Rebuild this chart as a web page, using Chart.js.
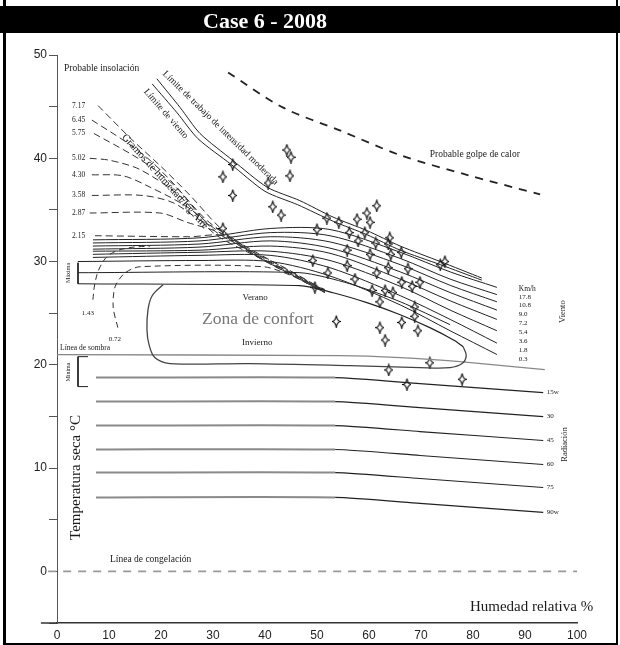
<!DOCTYPE html>
<html>
<head>
<meta charset="utf-8">
<script src="https://cdn.jsdelivr.net/npm/chart.js@4.4.1/dist/chart.umd.min.js"></script>
<style>
  html, body { margin: 0; padding: 0; background: #fff; }
  #wrap { position: relative; width: 620px; height: 645px; overflow: hidden; }
  canvas { position: absolute; left: 0; top: 0; }
  #frame { position: absolute; left: 3px; top: 0; width: 615px; height: 645px; box-sizing: border-box;
    border-left: 3px solid #000; border-right: 2px solid #000; border-bottom: 2px solid #000; pointer-events: none; }
  #title { position: absolute; left: 0; top: 6px; width: 620px; height: 27px; background: #000; }
  #title span { position: absolute; left: 203px; top: 2px; color: #fff; font: bold 22px 'Liberation Serif', serif; }
</style>
</head>
<body>
<div id="wrap">
  <canvas id="chart" width="620" height="645"></canvas>
  <div id="title"><span>Case 6 - 2008</span></div>
  <div id="frame"></div>
</div>
<script>
// axes
const humTicks = [0, 10, 20, 30, 40, 50, 60, 70, 80, 90, 100];
const tempTicks = [-5, 0, 5, 10, 15, 20, 25, 30, 35, 40, 45, 50];

// measured conditions (humidity %, temperature °C)
const obsHum = [44.2, 45.0, 44.8, 31.9, 33.8, 33.8, 40.6, 41.5, 43.1, 31.9, 51.9, 54.2, 57.7, 59.6, 61.5,
  60.2, 50.0, 56.2, 59.2, 57.9, 64.0, 63.7, 61.3, 55.8, 60.2, 64.2, 66.2, 49.2, 55.8, 61.5, 63.7, 67.5,
  73.7, 74.6, 52.1, 57.3, 66.3, 68.3, 69.8, 49.6, 60.6, 63.1, 64.6, 62.1, 68.8, 68.8, 66.3, 69.4, 62.1,
  63.1, 53.7, 63.8, 67.3, 71.7, 77.9];
const obsTemp = [40.8, 40.1, 38.3, 38.2, 39.4, 36.4, 37.6, 35.3, 34.5, 33.2, 34.2, 33.8, 34.1, 34.7, 35.4,
  33.8, 33.1, 32.8, 32.8, 32.0, 32.3, 31.7, 31.8, 31.1, 30.7, 30.7, 30.9, 30.1, 29.6, 28.9, 29.4, 29.3,
  29.7, 30.0, 28.9, 28.3, 28.0, 27.6, 28.0, 27.5, 27.2, 27.2, 27.0, 26.1, 25.6, 24.7, 24.1, 23.3, 23.6,
  22.4, 24.2, 19.5, 18.1, 20.2, 18.6];

// limits
const limitWork = [[19.2, 47.7], [23.7, 44.9], [27.5, 42.4], [33.8, 39.8], [40.4, 37.2], [46.7, 35.9],
  [53.1, 34.3], [59.6, 33.0], [66.0, 31.5], [73.7, 30.0], [81.7, 28.4]];
const limitWind = [[18.3, 47.2], [23.1, 44.4], [27.1, 41.9], [33.5, 39.4], [40.0, 36.8], [46.3, 35.5],
  [53.1, 33.9], [59.6, 32.6], [66.0, 31.1], [73.7, 29.7], [81.7, 28.2]];
const heatStroke = [[32.9, 48.3], [43.5, 44.9], [54.4, 42.7], [66.0, 40.3], [78.8, 38.4], [92.9, 36.5]];

// absolute humidity lines (g/kg)
const insolLabels = ['7.17', '6.45', '5.75', '5.02', '4.30', '3.58', '2.87', '2.15'];
const insolLines = [
  [[7.9, 45.1], [14.0, 42.0], [19.8, 39.3], [25.6, 36.4], [31.3, 33.3], [37.1, 31.1], [43.8, 29.2], [51.5, 27.1]],
  [[6.7, 43.7], [13.5, 41.5], [17.9, 39.8], [22.3, 37.6], [28.8, 34.0], [35.2, 31.8], [42.9, 29.6], [51.5, 27.2]],
  [[7.1, 42.4], [14.6, 40.3], [18.8, 38.9], [23.1, 37.1], [30.0, 33.1], [36.2, 31.3], [43.8, 29.4], [51.5, 27.2]],
  [[6.3, 40.0], [10.2, 39.8], [16.0, 38.9], [23.7, 36.3], [30.0, 32.8], [36.7, 30.9], [44.4, 29.1], [51.5, 27.1]],
  [[6.7, 38.4], [12.7, 38.3], [17.9, 37.2], [25.0, 35.3], [31.3, 32.8], [37.5, 30.8], [44.8, 28.9], [51.5, 27.1]],
  [[6.7, 36.4], [16.5, 36.4], [22.3, 35.7], [27.5, 34.0], [31.7, 32.9], [38.1, 30.6], [45.2, 28.7], [51.5, 27.0]],
  [[6.3, 34.7], [19.8, 34.7], [25.0, 33.8], [31.7, 32.7], [38.7, 30.4], [45.8, 28.5], [51.5, 27.0]],
  [[7.3, 32.5], [25.6, 32.4], [32.3, 32.5], [39.0, 30.4], [46.2, 28.4], [51.5, 27.0]]
];
const hum143 = [[6.9, 26.3], [7.3, 27.9], [8.3, 29.5], [10.2, 30.7], [13.5, 31.3], [17.9, 31.5]];
const hum072 = [[11.7, 23.6], [10.8, 25.6], [11.2, 27.6], [13.1, 28.9], [16.0, 29.5], [39.6, 29.5], [45.8, 28.5], [51.5, 27.3]];

// wind lines (km/h)
const windLabels = ['17.8', '10.8', '9.0', '7.2', '5.4', '3.6', '1.8', '0.3'];
const windStart = [6.9, 6.9, 6.9, 6.9, 6.9, 6.9, 6.9, 4.0];
const windX = [27.5, 41.0, 52.5, 66.0, 75.6, 84.6];
const windT = [
  [32.1, 32.3, 33.2, 33.1, 30.9, 29.0, 27.5],
  [31.8, 32.0, 32.8, 32.5, 30.3, 28.3, 26.8],
  [31.5, 31.7, 32.4, 31.9, 29.7, 27.7, 26.1],
  [31.2, 31.4, 32.0, 31.3, 29.0, 27.0, 25.3],
  [31.0, 31.1, 31.5, 30.8, 28.3, 26.2, 24.4],
  [30.7, 30.9, 31.0, 30.1, 27.6, 25.3, 23.3],
  [30.4, 30.6, 30.6, 29.4, 26.7, 24.4, 22.1],
  [30.0, 30.1, 30.0, 28.6, 25.8, 23.3, 21.0]
];

// radiation lines (w)
const radLabels = ['15w', '30', '45', '60', '75', '90w'];
const radX = [7.5, 53.5, 69.8, 93.5];
const radT = [
  [18.76, 18.76, 18.18, 17.31],
  [16.44, 16.44, 15.86, 14.99],
  [14.12, 14.12, 13.54, 12.67],
  [11.80, 11.80, 11.22, 10.35],
  [9.57, 9.57, 8.99, 8.12],
  [7.16, 7.16, 6.58, 5.71]
];

// comfort zone
const comfortTop = [[4.0, 27.85], [46.7, 27.66], [53.1, 26.98], [59.6, 26.02], [66.0, 24.85], [71.7, 23.6], [76.5, 22.34], [78.1, 21.76]];
const comfortMid = [[4.0, 28.92], [46.7, 28.92], [56.3, 27.85], [66.0, 26.11], [75.6, 23.89]];
const comfortBlob = [[20.4, 27.76], [18.3, 26.69], [17.5, 25.34], [17.3, 23.4], [17.7, 21.95], [18.8, 20.7],
  [21.7, 20.12], [37.1, 20.12], [56.3, 19.92], [69.8, 19.73], [75.6, 19.73], [77.9, 20.12], [78.7, 20.89], [78.1, 21.76]];
const shadeLine = [[0, 20.99], [54.4, 20.89], [66.0, 20.7], [77.5, 20.31], [93.8, 19.54]];
const upperBracket = [[4.04, 29.88], [4.04, 27.85]];
const lowerBracket = [[5.96, 20.79], [4.04, 20.79], [4.04, 17.89], [5.96, 17.89]];
const freezeLine = [[-1.7, 0], [100, 0]];
const axisStub = [[-3.1, -5], [0, -5]];

const serif = "'Liberation Serif', 'Times New Roman', serif";
const pts = arr => arr.map(([x, y]) => ({ x, y }));

function line(arr, color, width, dash, tension) {
  return {
    data: pts(arr), showLine: true, pointRadius: 0, borderColor: color, borderWidth: width,
    borderDash: dash || [], tension: tension === undefined ? 0.3 : tension, fill: false
  };
}

function makeStar() {
  const c = document.createElement('canvas');
  c.width = 9; c.height = 13;
  const g = c.getContext('2d');
  g.strokeStyle = '#000';
  g.lineWidth = 1.1;
  g.beginPath();
  g.moveTo(4.5, 0.5);
  g.quadraticCurveTo(5.2, 5.8, 8.5, 6.5);
  g.quadraticCurveTo(5.2, 7.2, 4.5, 12.5);
  g.quadraticCurveTo(3.8, 7.2, 0.5, 6.5);
  g.quadraticCurveTo(3.8, 5.8, 4.5, 0.5);
  g.stroke();
  return c;
}

const datasets = [];
datasets.push(line(comfortBlob, '#444', 1.3, null, 0.35));
datasets.push(line(comfortTop, '#222', 1.2, null, 0.25));
datasets.push(line(comfortMid, '#222', 1, null, 0.25));
datasets.push(line(shadeLine, '#888', 1.3, null, 0.2));
datasets.push(line(upperBracket, '#222', 1, null, 0));
datasets.push(line(lowerBracket, '#222', 1, null, 0));
datasets.push(line(limitWork, '#222', 1, null, 0.25));
datasets.push(line(limitWind, '#222', 1, null, 0.25));
datasets.push(line(heatStroke, '#222', 1.8, [8, 7], 0.3));
insolLines.forEach(l => datasets.push(line(l, '#333', 1, [7, 4], 0.3)));
datasets.push(line(hum143, '#333', 1, [6, 4], 0.4));
datasets.push(line(hum072, '#333', 1, [6, 4], 0.3));
windT.forEach((row, i) => {
  const arr = [[windStart[i], row[0]]].concat(windX.map((x, j) => [x, row[j + 1]]));
  datasets.push(line(arr, '#222', 1, null, 0.3));
});
radT.forEach(row => {
  const d = line(radX.map((x, j) => [x, row[j]]), '#333', 1.5, null, 0.2);
  d.segment = {
    borderColor: c => c.p0.parsed.x < 50 ? '#8a8a8a' : '#222',
    borderWidth: c => c.p0.parsed.x < 50 ? 2 : 1.2
  };
  datasets.push(d);
});
const fz = line(freezeLine, '#999', 1.6, [8, 7], 0);
fz.clip = false;
datasets.push(fz);
const stub = line(axisStub, '#333', 1.5, null, 0);
stub.clip = false;
datasets.push(stub);
datasets.push({
  data: obsHum.map((h, i) => ({ x: h, y: obsTemp[i] })),
  showLine: false, pointStyle: makeStar(), pointRadius: 5
});

// text annotations
const notes = [
  { t: 'Probable insolación', x: 1.35, y: 48.65, f: 9.5 },
  { t: 'Límite de trabajo de intensidad moderada', x: 20.6, y: 48.3, f: 9.5, r: 44.5 },
  { t: 'Límite de viento', x: 17.0, y: 46.6, f: 9.5, r: 49 },
  { t: 'Gramos de humedad/Kg Aire', x: 12.8, y: 42.2, f: 10.5, r: 48 },
  { t: 'Probable golpe de calor', x: 71.7, y: 40.33, f: 9.5 },
  { t: 'Verano', x: 38.1, y: 26.5, f: 9, a: 'center' },
  { t: 'Zona de confort', x: 38.65, y: 24.37, f: 17.5, a: 'center', c: '#777' },
  { t: 'Invierno', x: 38.5, y: 22.15, f: 9, a: 'center' },
  { t: 'Línea de sombra', x: 0.6, y: 21.66, f: 7.5 },
  { t: 'Línea de congelación', x: 10.2, y: 1.16, f: 9.5 },
  { t: '1.43', x: 5.96, y: 25.05, f: 7, a: 'center' },
  { t: '0.72', x: 11.15, y: 22.44, f: 7, a: 'center' },
  { t: 'Máxima', x: 2.2, y: 28.9, f: 6, r: -90, a: 'center' },
  { t: 'Mínima', x: 2.2, y: 19.3, f: 6, r: -90, a: 'center' },
  { t: 'Km/h', x: 88.8, y: 27.37, f: 7.5 },
  { t: 'Viento', x: 97.3, y: 25.15, f: 8.5, r: -90, a: 'center' },
  { t: 'Radiación', x: 97.7, y: 12.28, f: 8.5, r: -90, a: 'center' },
  { t: 'Temperatura seca °C', x: 3.65, y: 9.09, f: 15, r: -90, a: 'center' },
  { t: 'Humedad relativa %', x: 79.4, y: -3.48, f: 15 }
];
insolLabels.forEach((t, i) => notes.push({ t, x: 2.9, y: insolLines[i][0][1], f: 7.5 }));
windLabels.forEach((t, i) => notes.push({ t, x: 88.8, y: 26.6 - i * 0.87, f: 7 }));
radLabels.forEach((t, i) => notes.push({ t, x: 94.2, y: radT[i][3], f: 7 }));

const notesPlugin = {
  id: 'notes',
  afterDatasetsDraw(chart) {
    const { ctx, scales: { x, y } } = chart;
    notes.forEach(n => {
      ctx.save();
      ctx.translate(x.getPixelForValue(n.x), y.getPixelForValue(n.y));
      if (n.r) ctx.rotate(n.r * Math.PI / 180);
      ctx.font = n.f + 'px ' + serif;
      ctx.textAlign = n.a || 'left';
      ctx.textBaseline = 'middle';
      ctx.fillStyle = n.c || '#1a1a1a';
      ctx.fillText(n.t, 0, 0);
      ctx.restore();
    });
  }
};

new Chart(document.getElementById('chart'), {
  type: 'scatter',
  data: { datasets },
  options: {
    responsive: false,
    animation: false,
    devicePixelRatio: 1,
    layout: { padding: { top: 55, right: 43, left: 0, bottom: 0 } },
    plugins: { legend: { display: false }, tooltip: { enabled: false } },
    scales: {
      x: {
        type: 'linear', min: 0, max: 100,
        afterFit: s => { s.height = 22; },
        afterBuildTicks: s => { s.ticks = humTicks.map(v => ({ value: v })); },
        grid: { display: false, drawTicks: false, tickLength: 0 },
        border: { display: true, color: '#333', width: 1.5 },
        ticks: { color: '#222', font: { family: 'Liberation Sans', size: 12 }, padding: 5, maxRotation: 0, autoSkip: false }
      },
      y: {
        type: 'linear', min: -5, max: 50,
        afterFit: s => { s.width = 57; },
        afterBuildTicks: s => { s.ticks = tempTicks.map(v => ({ value: v })); },
        grid: { display: true, drawOnChartArea: false, drawTicks: true, tickLength: 8, color: '#555' },
        border: { display: true, color: '#555', width: 1 },
        ticks: {
          color: '#222', font: { family: 'Liberation Sans', size: 12 }, padding: 2, autoSkip: false,
          callback: v => (v % 10 === 0 ? String(v) : '')
        }
      }
    }
  },
  plugins: [notesPlugin]
});
</script>
</body>
</html>
